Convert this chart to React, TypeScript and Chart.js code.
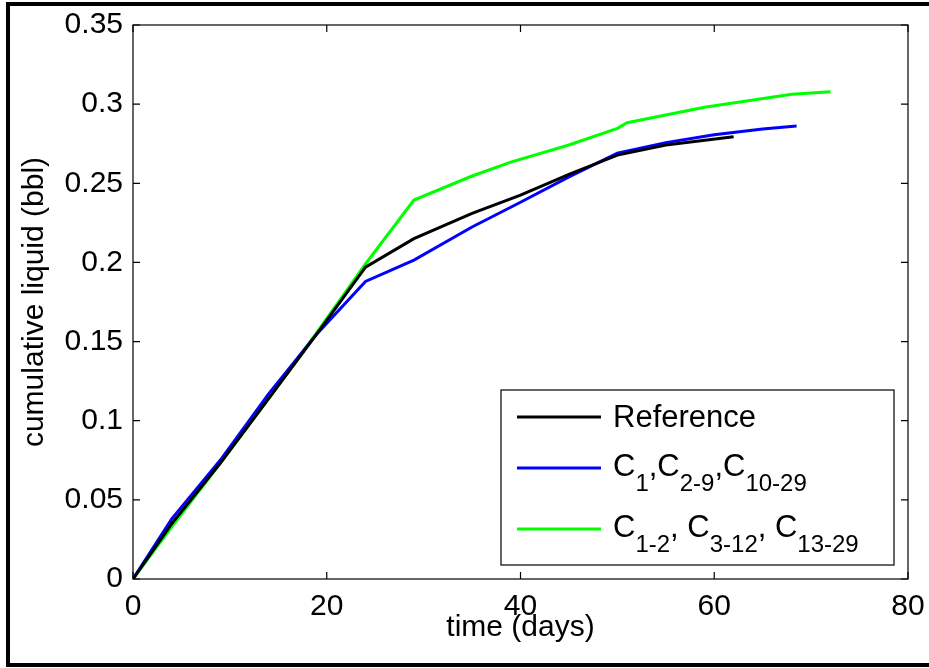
import { useEffect, useRef } from "react";
import { Chart, registerables } from "chart.js";

Chart.register(...registerables);

// ---- data ----
const refDays = [0, 4, 9, 14, 19, 24, 29, 35, 40, 45, 50, 55, 62];
const refLiquid = [0, 0.035, 0.073, 0.114, 0.155, 0.197, 0.215, 0.231, 0.2425, 0.2557, 0.2678, 0.2742, 0.2794];

const c1Days = [0, 4, 9, 14, 19, 24, 29, 35, 40, 45, 50, 55, 60, 65, 68.5];
const c1Liquid = [0, 0.038, 0.075, 0.117, 0.155, 0.188, 0.2015, 0.2224, 0.238, 0.254, 0.269, 0.2757, 0.2806, 0.2843, 0.2862];

const c2Days = [0, 4, 9, 14, 19, 24, 29, 35, 39, 45, 50, 51, 59, 68, 72];
const c2Liquid = [0, 0.033, 0.073, 0.114, 0.156, 0.199, 0.2394, 0.2546, 0.2634, 0.2742, 0.2847, 0.2883, 0.298, 0.3062, 0.3079];

const xTitle = "time (days)";
const yTitle = "cumulative liquid (bbl)";
const xMin = 0, xMax = 80, xStep = 20;
const yMin = 0, yMax = 0.35, yStep = 0.05;

// legend labels: segments, sub = subscript
const legendRef = [{ t: "Reference", sub: false }];
const legendC1 = [
  { t: "C", sub: false }, { t: "1", sub: true }, { t: ",", sub: false },
  { t: "C", sub: false }, { t: "2-9", sub: true }, { t: ",", sub: false },
  { t: "C", sub: false }, { t: "10-29", sub: true },
];
const legendC2 = [
  { t: "C", sub: false }, { t: "1-2", sub: true }, { t: ", ", sub: false },
  { t: "C", sub: false }, { t: "3-12", sub: true }, { t: ", ", sub: false },
  { t: "C", sub: false }, { t: "13-29", sub: true },
];

const colors = ["#000000", "#0000ff", "#00ff00"];
const FONT = "'Liberation Sans', Arial, sans-serif";

const toPts = (xs: number[], ys: number[]) => xs.map((x, i) => ({ x, y: ys[i] }));

const matlabPlugin = {
  id: "matlabPlugin",
  afterDatasetsDraw(chart: any) {
    const { ctx, chartArea: a, scales } = chart;
    const xs = scales.x, ys = scales.y;
    ctx.save();
    // axes box
    ctx.strokeStyle = "#000";
    ctx.lineWidth = 1.2;
    ctx.strokeRect(a.left, a.top, a.right - a.left, a.bottom - a.top);
    // inward ticks on all four sides
    const tl = 7;
    ctx.beginPath();
    for (const t of xs.ticks) {
      const px = xs.getPixelForValue(t.value);
      ctx.moveTo(px, a.bottom); ctx.lineTo(px, a.bottom - tl);
      ctx.moveTo(px, a.top); ctx.lineTo(px, a.top + tl);
    }
    for (const t of ys.ticks) {
      const py = ys.getPixelForValue(t.value);
      ctx.moveTo(a.left, py); ctx.lineTo(a.left + tl, py);
      ctx.moveTo(a.right, py); ctx.lineTo(a.right - tl, py);
    }
    ctx.stroke();

    // legend
    const bw = 393, bh = 175;
    const bx = a.right - 14 - bw, by = a.bottom - 14 - bh;
    ctx.fillStyle = "#fff";
    ctx.fillRect(bx, by, bw, bh);
    ctx.lineWidth = 1.2;
    ctx.strokeStyle = "#000";
    ctx.strokeRect(bx, by, bw, bh);
    const rows = [legendRef, legendC1, legendC2];
    const lineYs = [27, 78, 139];
    const baseOff = [10, 8, 8];
    rows.forEach((segs, i) => {
      const ly = by + lineYs[i];
      ctx.strokeStyle = colors[i];
      ctx.lineWidth = 3;
      ctx.beginPath();
      ctx.moveTo(bx + 16, ly);
      ctx.lineTo(bx + 100, ly);
      ctx.stroke();
      let tx = bx + 112;
      const base = ly + baseOff[i];
      ctx.fillStyle = "#000";
      ctx.textBaseline = "alphabetic";
      ctx.textAlign = "left";
      for (const s of segs) {
        ctx.font = s.sub ? `24px ${FONT}` : `31px ${FONT}`;
        ctx.fillText(s.t, tx, s.sub ? base + 15 : base);
        tx += ctx.measureText(s.t).width;
      }
    });
    ctx.restore();
  },
  afterDraw(chart: any) {
    const { ctx } = chart;
    ctx.save();
    ctx.fillStyle = "#000";
    ctx.fillRect(6, 2, 940, 4);   // top frame
    ctx.fillRect(6, 2, 4, 665);   // left frame
    ctx.fillRect(6, 663, 940, 4); // bottom frame
    ctx.restore();
  },
};

export default function App() {
  const ref = useRef<HTMLCanvasElement | null>(null);
  useEffect(() => {
    if (!ref.current) return;
    const tickFont = { family: FONT, size: 30 };
    const chart = new Chart(ref.current, {
      type: "line",
      data: {
        datasets: [
          { label: "Reference", data: toPts(refDays, refLiquid), borderColor: colors[0] },
          { label: "C1,C2-9,C10-29", data: toPts(c1Days, c1Liquid), borderColor: colors[1] },
          { label: "C1-2, C3-12, C13-29", data: toPts(c2Days, c2Liquid), borderColor: colors[2] },
        ].map((d) => ({ ...d, borderWidth: 3, pointRadius: 0, fill: false, tension: 0, backgroundColor: d.borderColor })),
      },
      options: {
        animation: false,
        responsive: false,
        events: [],
        layout: { padding: { left: 0, top: 25, right: 21, bottom: 0 } },
        plugins: { legend: { display: false }, tooltip: { enabled: false } },
        scales: {
          x: {
            type: "linear",
            min: xMin, max: xMax,
            ticks: { stepSize: xStep, font: tickFont, color: "#000", padding: 10, maxRotation: 0 },
            grid: { display: false, drawTicks: false },
            border: { display: false },
            title: { display: true, text: xTitle, font: tickFont, color: "#000", padding: { top: 0, bottom: 22 } },
            afterFit: (s: any) => { s.height = 89; s.paddingLeft = 0; s.paddingRight = 0; },
          },
          y: {
            type: "linear",
            min: yMin, max: yMax,
            ticks: {
              stepSize: yStep, font: tickFont, color: "#000", padding: 10,
              callback: (v: any) => String(+Number(v).toFixed(2)),
            },
            grid: { display: false, drawTicks: false },
            border: { display: false },
            title: { display: true, text: yTitle, font: tickFont, color: "#000", padding: { top: 17, bottom: 0 } },
            afterFit: (s: any) => { s.width = 133; s.paddingTop = 0; s.paddingBottom = 0; },
          },
        },
      } as any,
      plugins: [matlabPlugin],
    });
    return () => chart.destroy();
  }, []);
  return (
    <div style={{ position: "fixed", left: 0, top: 0, width: 929, height: 668, background: "#fff" }}>
      <canvas ref={ref} width={929} height={668} style={{ display: "block" }} />
    </div>
  );
}
